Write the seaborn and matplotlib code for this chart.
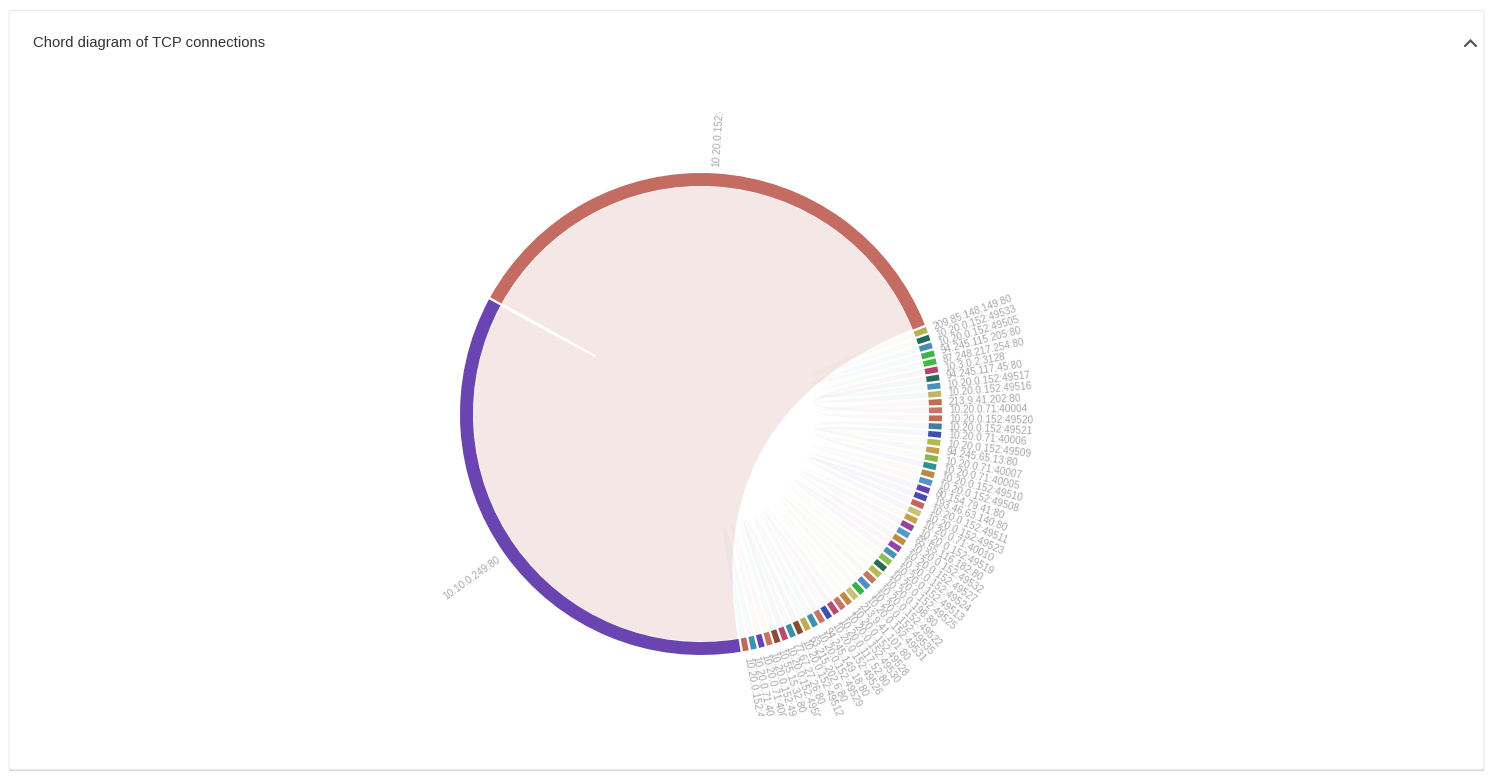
import numpy as np
import matplotlib
matplotlib.use("Agg")
import matplotlib.pyplot as plt
from matplotlib.path import Path
from matplotlib.patches import PathPatch, Wedge, FancyBboxPatch, Rectangle
import seaborn as sns

# ---------------- data ----------------
title = "Chord diagram of TCP connections"

big_nodes = ["10.20.0.152:49534", "10.10.0.249:80"]
big_values = [92, 91]
big_colors = ["#c46c62", "#6a44b0"]

small_nodes = [
    "209.85.148.149:80", "10.20.0.152:49533", "10.20.0.152:49505", "94.245.115.205:80",
    "87.248.217.254:80", "10.3.0.2:3128", "94.245.117.45:80", "10.20.0.152:49517",
    "10.20.0.152:49516", "213.9.41.202:80", "10.20.0.71:40004", "10.20.0.152:49520",
    "10.20.0.152:49521", "10.20.0.71:40006", "10.20.0.152:49509", "94.245.65.13:80",
    "10.20.0.71:40007", "10.20.0.71:40005", "10.20.0.152:49510", "10.20.0.152:49508",
    "80.154.79.41:80", "193.46.63.140:80", "10.20.0.152:49511", "10.20.0.152:49523",
    "10.20.0.71:40010", "10.20.0.152:49519", "65.55.116.182:80", "10.20.0.152:49532",
    "10.20.0.152:49527", "10.20.0.152:49524", "10.20.0.152:49513", "10.20.0.152:49525",
    "10.20.0.198:80", "10.20.0.152:49522", "10.20.0.152:49535", "10.20.0.152:49531",
    "213.9.41.101:80", "10.20.0.152:49528", "10.20.0.152:49530", "10.20.0.117.52:80",
    "10.20.0.152:49526", "94.245.149.18:80", "10.20.0.152:49529", "63.215.202.6:80",
    "10.20.0.152:49512", "77.67.27.26:80", "10.20.0.152:49506", "10.55.15.32:80",
    "10.20.0.152:49514", "10.20.0.71:40009", "10.20.0.71:40008", "10.20.0.152:49515",
]
small_values = [1] * 52
small_colors = [
    "#b5b24f", "#256b5c", "#4a8db8", "#3db34a", "#45b845", "#b5426e", "#286a5c", "#4a92ba",
    "#c2b463", "#c26c56", "#c8746a", "#c06c52", "#3f80a2", "#3c50b2", "#b3b84c", "#c2a244",
    "#8ab84c", "#2e9292", "#ba8a44", "#5293c8", "#6a3fb2", "#4a4ab2", "#c86262", "#c8c274",
    "#c8a24a", "#9a3fa2", "#5698c8", "#c08a42", "#9442a6", "#4a92b2", "#8cc052", "#2a6a52",
    "#b8b852", "#c87462", "#4a8ec8", "#3cb04a", "#c8c274", "#c08a44", "#c87462", "#b84a72",
    "#3c50b2", "#c87462", "#3a92b2", "#c2aa54", "#8a4c32", "#3a92a2", "#b84a72", "#8a4c32",
    "#c87462", "#6a40b2", "#3a92b2", "#c06a58",
]
# small connections (pairs of indices into small_nodes)
small_links = [(0, 1), (2, 3), (4, 7), (5, 10), (6, 8), (9, 11), (12, 15), (13, 17),
               (14, 16), (18, 19), (20, 22), (21, 23), (24, 26), (25, 27), (28, 29),
               (30, 31), (32, 34), (33, 35), (36, 37), (38, 40), (39, 41), (42, 43),
               (44, 46), (45, 47), (48, 49), (50, 51)]

# ---------------- layout ----------------
W, H = 1492, 781
CX, CY = 701, 781 - 414
R_OUT, R_IN = 241, 228
PAD = 0.55          # degrees between groups
START = 151.3 - PAD / 2   # first group (clockwise from here)

sns.set_theme(style="white")
plt.rcParams["font.family"] = ["Liberation Sans", "DejaVu Sans"]

fig = plt.figure(figsize=(W / 100, H / 100), dpi=100)
fig.patch.set_facecolor("white")
ax = fig.add_axes([0, 0, 1, 1])
ax.set_xlim(0, W)
ax.set_ylim(0, H)
ax.set_aspect("equal")
ax.axis("off")

# card
ax.add_patch(Rectangle((9, 10), 1475, 760, facecolor="#d6d6d6", edgecolor="none", zorder=0))
ax.add_patch(FancyBboxPatch((9, 11.5), 1475, 759, boxstyle="round,pad=0,rounding_size=3",
                            facecolor="white", edgecolor="#ececec", lw=0.8, zorder=0.5))
ax.text(33, H - 43, title, fontsize=10.7, color="#333333", va="center", ha="left")
ax.plot([1465, 1470.5, 1476], [H - 46, H - 40.5, H - 46], color="#555555", lw=1.6,
        solid_capstyle="round", solid_joinstyle="miter")

# drawing area (svg viewport) used for clipping labels
clip_box = Rectangle((20, H - 716), 1450, 604, facecolor="none", edgecolor="none")
ax.add_patch(clip_box)

# group order clockwise: big0, smalls, big1
order_labels = [big_nodes[0]] + small_nodes + [big_nodes[1]]
order_values = [big_values[0]] + small_values + [big_values[1]]
order_colors = [big_colors[0]] + list(sns.color_palette(small_colors)) + [big_colors[1]]

n = len(order_values)
k = (360 - n * PAD) / sum(order_values)
starts, ends = [], []
a = START
for v in order_values:
    starts.append(a)
    ends.append(a - v * k)
    a = a - v * k - PAD


def pt(r, t):
    return CX + r * np.cos(np.radians(t)), CY + r * np.sin(np.radians(t))


def arc(r, t0, t1, m=60):
    ts = np.linspace(t0, t1, m)
    return [pt(r, t) for t in ts]


def ribbon(a0, a1, b0, b1, r=R_IN):
    verts, codes = [], []
    pa = arc(r, a0, a1)
    verts += pa
    codes += [Path.MOVETO] + [Path.LINETO] * (len(pa) - 1)
    verts += [(CX, CY), pt(r, b0)]
    codes += [Path.CURVE3, Path.CURVE3]
    pb = arc(r, b0, b1)
    verts += pb[1:]
    codes += [Path.LINETO] * (len(pb) - 1)
    verts += [(CX, CY), pt(r, a0), pt(r, a0)]
    codes += [Path.CURVE3, Path.CURVE3, Path.CLOSEPOLY]
    return Path(verts, codes)


# big chord
i0, i1 = 0, n - 1
ax.add_patch(PathPatch(ribbon(starts[i0], ends[i0], starts[i1], ends[i1]),
                       facecolor=big_colors[0], alpha=0.16, edgecolor="none", zorder=1))
ax.add_patch(PathPatch(ribbon(starts[i0], ends[i0], starts[i1], ends[i1]),
                       facecolor="none", edgecolor="white", lw=1.0, zorder=1.1))
# small chords (very faint)
for s, t in small_links:
    gs, gt = s + 1, t + 1
    ax.add_patch(PathPatch(ribbon(starts[gs], ends[gs], starts[gt], ends[gt]),
                           facecolor=order_colors[gs], alpha=0.045, edgecolor="none", zorder=1.2))

# group arcs
for st, en, col in zip(starts, ends, order_colors):
    ax.add_patch(Wedge((CX, CY), R_OUT, en, st, width=R_OUT - R_IN,
                       facecolor=col, edgecolor="none", zorder=2))

# labels
for lab, st, en in zip(order_labels, starts, ends):
    tm = (st + en) / 2
    tm_n = ((tm + 180) % 360) - 180
    x, y = pt(R_OUT + 7, tm)
    if -90 <= tm_n <= 90:
        rot, ha = tm_n, "left"
    else:
        rot, ha = tm_n - 180 if tm_n > 0 else tm_n + 180, "right"
    txt = ax.text(x, y, lab, fontsize=7.2, color="#a8a8a8", rotation=rot, rotation_mode="anchor",
                  ha=ha, va="center", zorder=3, clip_on=True)
    txt.set_clip_path(clip_box)

fig.savefig("out.png", dpi=100)
